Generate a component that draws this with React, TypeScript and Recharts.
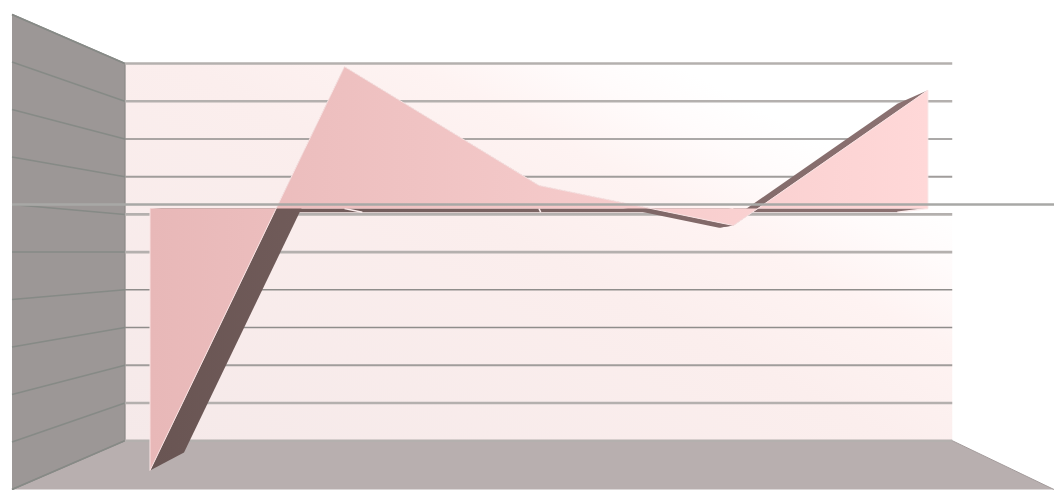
import { ScatterChart, Scatter, XAxis, YAxis } from 'recharts';

// values, one per category
const categories = ['A', 'B', 'C', 'D', 'E'];
const seriesValues = [-6.02, 3.26, 0.53, -0.39, 2.72];
const tickValues = [-6, -5, -4, -3, -2, -1, 0, 1, 2, 3, 4];

const W = 1054;
const H = 490;

// simple perspective: everything shrinks towards a vanishing point
const VX = 560;
const VY = 252.5;
const FRONT = 1;
const BACK = 0.794;
const SERIES_FRONT = 0.916;
const SERIES_BACK = 0.84;
const LEFT = 12;
const RIGHT = 1054;

type Pt = { x: number; y: number };

const project = (x: number, y: number, depth: number): Pt => ({
  x: VX + (x - VX) * depth,
  y: VY + (y - VY) * depth,
});
const valueY = (v: number) => 204.5 - 47.5 * v;
const catX = (i: number) => 112.4 + 212.3 * i;

const pt = (i: number, v: number, depth: number) => project(catX(i), valueY(v), depth);
const wallPt = (x: number, v: number, depth: number) => project(x, valueY(v), depth);

const last = categories.length - 1;
const vMin = tickValues[0];
const vMax = tickValues[tickValues.length - 1];

const backWall = [
  wallPt(LEFT, vMax, BACK), wallPt(RIGHT, vMax, BACK), wallPt(RIGHT, vMin, BACK), wallPt(LEFT, vMin, BACK),
];
const sideWall = [
  wallPt(LEFT, vMax, FRONT), wallPt(LEFT, vMax, BACK), wallPt(LEFT, vMin, BACK), wallPt(LEFT, vMin, FRONT),
];
const floor = [
  wallPt(LEFT, vMin, FRONT), wallPt(LEFT, vMin, BACK), wallPt(RIGHT, vMin, BACK), wallPt(RIGHT, vMin, FRONT),
];

const baseRibbon = [pt(0, 0, SERIES_FRONT), pt(last, 0, SERIES_FRONT), pt(last, 0, SERIES_BACK), pt(0, 0, SERIES_BACK)];
const valueRibbons = seriesValues.slice(0, -1).map((v, i) => [
  pt(i, v, SERIES_FRONT),
  pt(i + 1, seriesValues[i + 1], SERIES_FRONT),
  pt(i + 1, seriesValues[i + 1], SERIES_BACK),
  pt(i, v, SERIES_BACK),
]);
const face = [
  pt(0, 0, SERIES_FRONT),
  ...seriesValues.map((v, i) => pt(i, v, SERIES_FRONT)),
  pt(last, 0, SERIES_FRONT),
];

const noDot = () => <g />;

// the gridlines look uneven in the source image, some thin and dark, some wide and pale
const gridStroke = (v: number): [string, number] => {
  if (v === 2 || v === -2 || v === -3) return ['#8f8d8b', 1.6];
  if (v === 1 || v === -4) return ['#a09d9b', 2];
  return ['#b4b0ae', 2.6];
};

const polygon = (key: string, data: Pt[], fill: string, stroke = 'none', strokeWidth = 0) => (
  <Scatter
    key={key}
    data={data}
    shape={noDot}
    isAnimationActive={false}
    line={{ fill, stroke, strokeWidth }}
  />
);

const polyline = (key: string, data: Pt[], stroke: string, strokeWidth: number) => (
  <Scatter
    key={key}
    data={data}
    shape={noDot}
    isAnimationActive={false}
    line={{ fill: 'none', stroke, strokeWidth }}
  />
);

export default function App() {
  return (
    <div style={{ position: 'absolute', left: 0, top: 0, width: W, height: H, background: '#fff', filter: 'blur(0.6px)' }}>
      <ScatterChart width={W} height={H} margin={{ top: 0, right: 0, bottom: 0, left: 0 }}>
        <defs>
          <linearGradient id="wallFill" gradientUnits="userSpaceOnUse" x1="125" y1="440" x2="461" y2="-195">
            <stop offset="0" stopColor="#f5e9e9" />
            <stop offset="0.5" stopColor="#fbeeed" />
            <stop offset="0.65" stopColor="#fef3f2" />
            <stop offset="0.75" stopColor="#fffbfb" />
            <stop offset="0.82" stopColor="#ffffff" />
            <stop offset="1" stopColor="#ffffff" />
          </linearGradient>
          <linearGradient id="faceFill" gradientUnits="userSpaceOnUse" x1="150" y1="0" x2="928" y2="0">
            <stop offset="0" stopColor="#e8b8b8" />
            <stop offset="1" stopColor="#ffd8d8" />
          </linearGradient>
          <linearGradient id="ribbonFill" gradientUnits="userSpaceOnUse" x1="150" y1="0" x2="928" y2="0">
            <stop offset="0" stopColor="#695553" />
            <stop offset="1" stopColor="#8c7272" />
          </linearGradient>
        </defs>
        <XAxis type="number" dataKey="x" domain={[0, W]} hide />
        <YAxis type="number" dataKey="y" domain={[0, H]} reversed hide />

        {polygon('back', backWall, 'url(#wallFill)')}
        {polygon('floor', floor, '#b8afaf', '#a39b9b', 1)}
        {polygon('side', sideWall, '#9c9796', '#8f8c8a', 1.5)}

        {tickValues.map((v) => polyline(`side-${v}`, [wallPt(LEFT, v, FRONT), wallPt(LEFT, v, BACK)], '#868a86', 1.5))}
        {tickValues.map((v) => {
          const [stroke, width] = gridStroke(v);
          return polyline(`grid-${v}`, [wallPt(LEFT, v, BACK), wallPt(RIGHT, v, BACK)], stroke, width);
        })}

        {polygon('base', baseRibbon, 'url(#ribbonFill)')}
        {categories.map((c, i) =>
          polyline(`break-${c}`, [pt(i, 0, SERIES_FRONT), pt(i, 0, SERIES_BACK)], '#fbecec', 1.5),
        )}
        {valueRibbons.map((r, i) => polygon(`ribbon-${i}`, r, 'url(#ribbonFill)'))}
        {polygon('face', face, 'url(#faceFill)', '#f9e3e3', 1)}

        {polyline('zero', [wallPt(LEFT, 0, FRONT), wallPt(RIGHT, 0, FRONT)], '#a8a8a6', 2.6)}
      </ScatterChart>
    </div>
  );
}
